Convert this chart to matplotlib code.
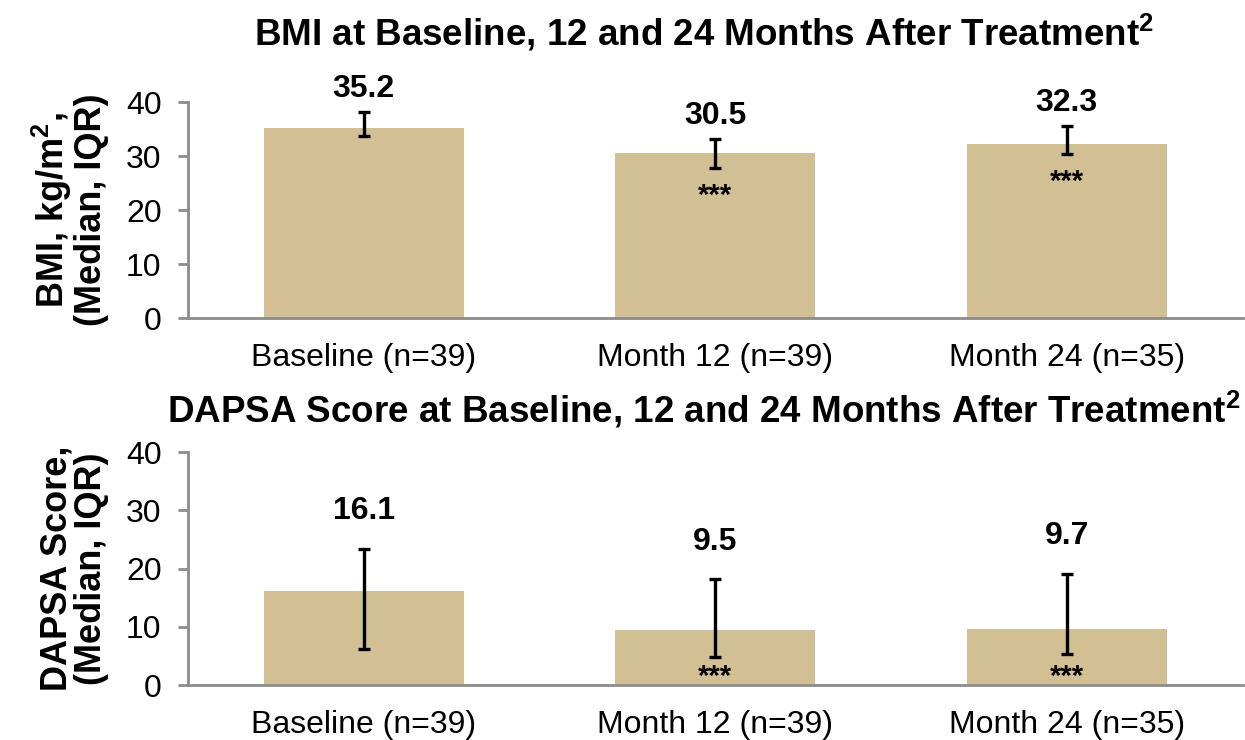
import matplotlib
matplotlib.use("Agg")
import matplotlib.pyplot as plt
import numpy as np

plt.rcParams["font.family"] = ["Liberation Sans", "DejaVu Sans"]
plt.rcParams["mathtext.fontset"] = "custom"
plt.rcParams["mathtext.rm"] = "Liberation Sans"
plt.rcParams["mathtext.bf"] = "Liberation Sans:bold"

# Shared categories
categories = ["Baseline (n=39)", "Month 12 (n=39)", "Month 24 (n=35)"]

# BMI, kg/m^2: median with interquartile range
bmi_median = [35.2, 30.5, 32.3]
bmi_q1 = [33.7, 27.8, 30.4]
bmi_q3 = [38.2, 33.1, 35.6]
bmi_sig = ["", "***", "***"]

# DAPSA score: median with interquartile range
dapsa_median = [16.1, 9.5, 9.7]
dapsa_q1 = [6.2, 4.8, 5.4]
dapsa_q3 = [23.4, 18.2, 19.1]
dapsa_sig = ["", "***", "***"]

y_ticks = [0, 10, 20, 30, 40]

BAR_COLOR = "#D3BF94"
AXIS_COLOR = "#8C8C8C"

fig = plt.figure(figsize=(12.45, 7.4), dpi=100)
ax_top = fig.add_axes([0.151, 0.570, 0.847, 0.292])
ax_bot = fig.add_axes([0.151, 0.0743, 0.847, 0.3147])


def draw_panel(ax, median, q1, q3, sig, ylabel, label_off, star_mode):
    x = np.arange(len(categories))
    med = np.array(median)
    lo = med - np.array(q1)
    hi = np.array(q3) - med
    ax.bar(x, med, width=0.57, color=BAR_COLOR, zorder=2)
    ax.errorbar(x, med, yerr=[lo, hi], fmt="none", ecolor="black",
                elinewidth=2.4, capsize=4.5, capthick=2.4, zorder=3)
    for xi, m, top, bot, s in zip(x, median, q3, q1, sig):
        ax.annotate(f"{m:.1f}", xy=(xi, top), xytext=(0, label_off),
                    textcoords="offset points", ha="center", va="center",
                    fontsize=23, fontweight="bold")
        if s:
            if star_mode == "below":
                ax.annotate(s, xy=(xi, bot), xytext=(0, -20),
                            textcoords="offset points", ha="center",
                            va="center", fontsize=21, fontweight="bold")
            else:
                ax.annotate(s, xy=(xi, 0), xytext=(0, 6),
                            textcoords="offset points", ha="center",
                            va="center", fontsize=21, fontweight="bold")
    ax.set_xlim(-0.5, 2.5)
    ax.set_ylim(0, 40)
    ax.set_yticks(y_ticks)
    ax.set_xticks(x)
    ax.set_xticklabels(categories)
    ax.tick_params(axis="x", length=0, pad=18, labelsize=23)
    ax.tick_params(axis="y", length=7, width=2, color=AXIS_COLOR,
                   pad=12, labelsize=23)
    for side in ("top", "right"):
        ax.spines[side].set_visible(False)
    for side in ("left", "bottom"):
        ax.spines[side].set_color(AXIS_COLOR)
        ax.spines[side].set_linewidth(2)
    ax.set_ylabel(ylabel, fontsize=26, fontweight="bold", labelpad=12,
                  multialignment="center", linespacing=1.0)


draw_panel(ax_top, bmi_median, bmi_q1, bmi_q3, bmi_sig,
           "BMI, kg/m$^{\\mathbf{2}}$,\n(Median, IQR)", 16.5, "below")
draw_panel(ax_bot, dapsa_median, dapsa_q1, dapsa_q3, dapsa_sig,
           "DAPSA Score,\n(Median, IQR)", 27, "base")

fig.text(704 / 1245, 1 - 33 / 740,
         "BMI at Baseline, 12 and 24 Months After Treatment$^{\\mathbf{2}}$",
         ha="center", va="center", fontsize=26.5, fontweight="bold")
fig.text(704 / 1245, 1 - 410 / 740,
         "DAPSA Score at Baseline, 12 and 24 Months After Treatment$^{\\mathbf{2}}$",
         ha="center", va="center", fontsize=26.5, fontweight="bold")

fig.savefig("out.png", dpi=100)
